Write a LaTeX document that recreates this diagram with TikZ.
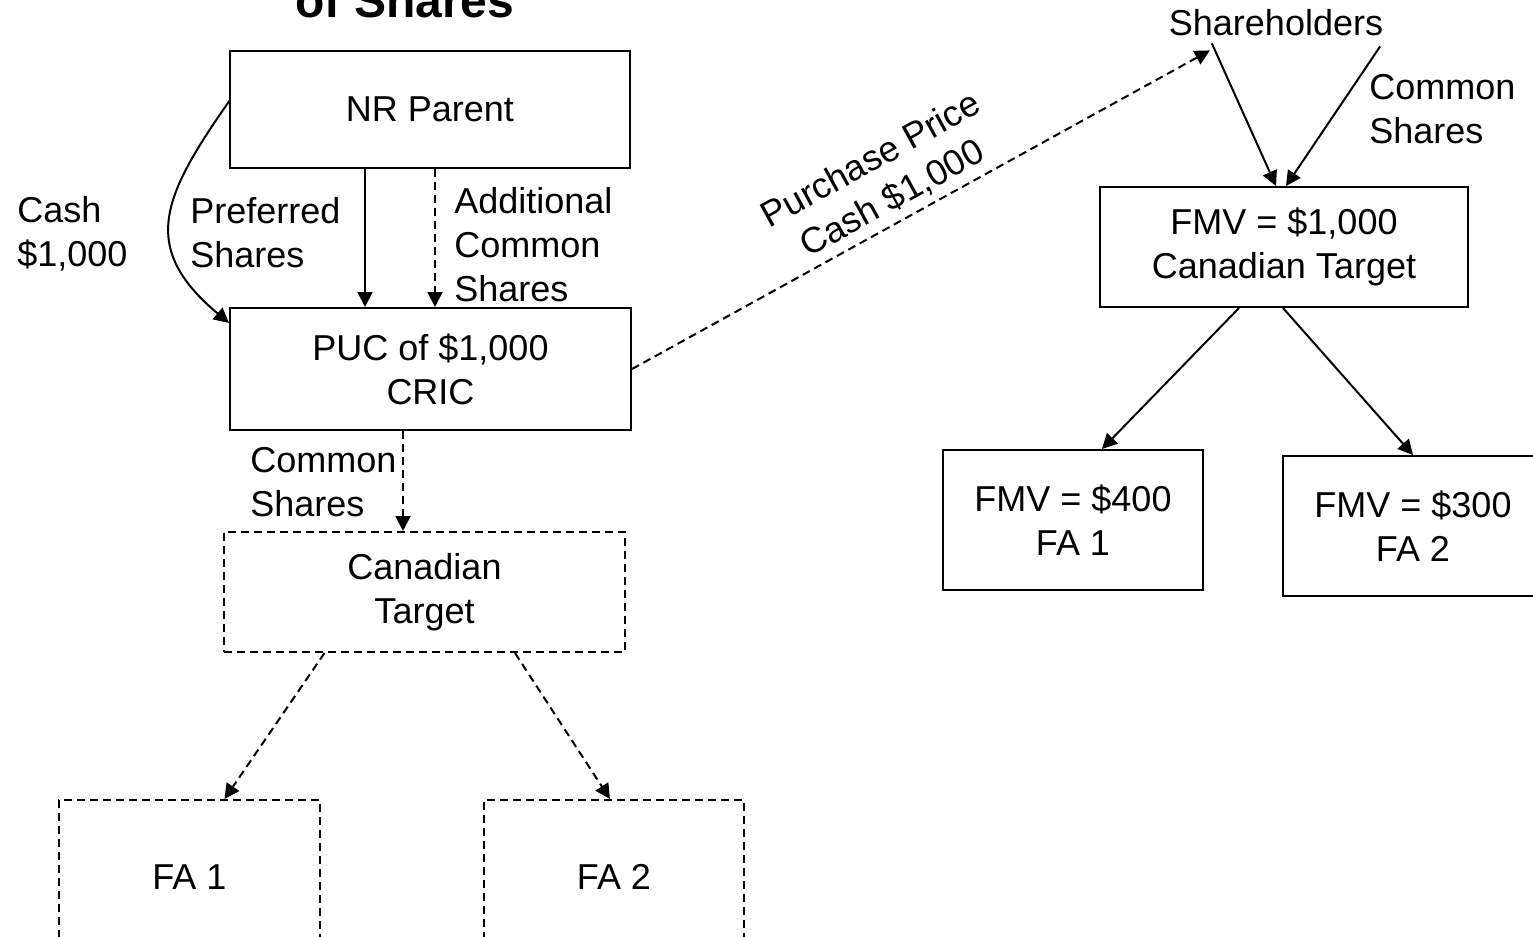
\documentclass[tikz,border=0pt]{standalone}
\usepackage{fontspec}
\setmainfont{Liberation Sans}
\usetikzlibrary{arrows.meta, calc}

\newcommand{\diagfont}{\fontsize{18pt}{22pt}\selectfont}
\tikzset{
  box/.style={draw, line width=1pt, align=center, inner sep=0pt, font=\diagfont},
  dbox/.style={box, dash pattern=on 4pt off 2.5pt},
  lbl/.style={anchor=north west, align=left, inner sep=0pt, font=\diagfont},
  arr/.style={line width=1pt, -{Triangle[length=7.5pt,width=7.5pt]}},
  darr/.style={arr, dash pattern=on 4pt off 2.5pt}
}

\begin{document}
\begin{tikzpicture}[x=0.5pt, y=0.5pt]
				\useasboundingbox (0,0) rectangle (1533,-937);
				\clip (0,0) rectangle (1533,-937);
				
				% left: CRIC structure
				\node[anchor=base, font=\fontsize{24pt}{28pt}\selectfont\bfseries] (title) at (405,-18) {of Shares};
				\node[box, minimum width=200pt, minimum height=58.5pt] (parent) at (430,-109.5) {NR Parent};
				\node[box, minimum width=200.5pt, minimum height=61pt] (cric) at (430.5,-369) {PUC of \$1,000\\CRIC};
				\node[dbox, minimum width=200.5pt, minimum height=60pt] (ctarget) at (424.5,-592) {Canadian\\Target};
				\node[dbox, minimum width=130.5pt, minimum height=77pt] (fa1) at (189.5,-877) {FA 1};
				\node[dbox, minimum width=130pt, minimum height=77pt] (fa2) at (614,-877) {FA 2};
				
				\node[lbl] (cashlbl) at (17,-196) {Cash\\\$1,000};
				\node[lbl] (preflbl) at (190,-197) {Preferred\\Shares};
				\node[lbl] (addlbl) at (454,-187) {Additional\\Common\\Shares};
				\node[lbl] (comlbl) at (250,-447) {Common\\Shares};
				
				\draw[arr] ($(parent.west)+(1,9.5)$) to[out=235, in=140, looseness=1.35] ($(cric.west)+(0,46)$);
				\draw[arr] ($(parent.south)+(-65,0)$) -- ($(cric.north)+(-65.5,0)$);
				\draw[darr] ($(parent.south)+(5,0)$) -- ($(cric.north)+(4.5,0)$);
				\draw[darr] ($(cric.south)+(-27.5,0)$) -- ($(ctarget.north)+(-21.5,0)$);
				\draw[darr] ($(ctarget.south)+(-100,0)$) -- ($(fa1.north)+(35,0)$);
				\draw[darr] ($(ctarget.south)+(90.5,0)$) -- ($(fa2.north)+(-4,0)$);
				
				% right: Canadian Target before the purchase
				\node[anchor=base, font=\diagfont] (sh) at (1276,-35) {Shareholders};
				\node[box, minimum width=184pt, minimum height=60pt] (rtarget) at (1284,-247) {FMV = \$1,000\\Canadian Target};
				\node[box, minimum width=130pt, minimum height=70pt] (rfa1) at (1073,-520) {FMV = \$400\\FA 1};
				\node[box, minimum width=130pt, minimum height=70pt] (rfa2) at (1413,-526) {FMV = \$300\\FA 2};
				\node[lbl] (rcomlbl) at (1369,-74) {Common\\Shares};
				
				\draw[arr] ($(sh.south west)+(50,-1)$) -- ($(rtarget.north)+(-8,0)$);
				\draw[arr] ($(sh.south east)+(-10,-4)$) -- ($(rtarget.north)+(2,0)$);
				\draw[arr] ($(rtarget.south)+(-45,0)$) -- ($(rfa1.north)+(29,0)$);
				\draw[arr] ($(rtarget.south)+(-1,0)$) -- (rfa2.north);
				
				\draw[darr] (cric.east) -- node[pos=0.47, above, sloped, align=center, font=\diagfont]{Purchase Price\\Cash \$1,000} ($(sh.south west)+(48,-8)$);
			\end{tikzpicture}
\end{document}
